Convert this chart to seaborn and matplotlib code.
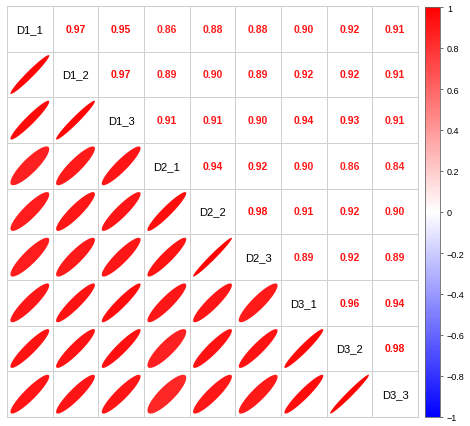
import numpy as np
import pandas as pd
import matplotlib
matplotlib.use("Agg")
import matplotlib.pyplot as plt
import seaborn as sns
from matplotlib.colors import LinearSegmentedColormap, ListedColormap
from matplotlib.patches import Polygon

labels = ["D1_1", "D1_2", "D1_3", "D2_1", "D2_2", "D2_3", "D3_1", "D3_2", "D3_3"]
# upper triangle, row by row
upper = [
    [0.97, 0.95, 0.86, 0.88, 0.88, 0.90, 0.92, 0.91],
    [0.97, 0.89, 0.90, 0.89, 0.92, 0.92, 0.91],
    [0.91, 0.91, 0.90, 0.94, 0.93, 0.91],
    [0.94, 0.92, 0.90, 0.86, 0.84],
    [0.98, 0.91, 0.92, 0.90],
    [0.89, 0.92, 0.89],
    [0.96, 0.94],
    [0.98],
]
cbar_ticks = [-1, -0.8, -0.6, -0.4, -0.2, 0, 0.2, 0.4, 0.6, 0.8, 1]

n = len(labels)
mat = np.eye(n)
for i, row in enumerate(upper):
    for k, v in enumerate(row):
        mat[i, i + 1 + k] = v
        mat[i + 1 + k, i] = v
corr = pd.DataFrame(mat, index=labels, columns=labels)

cmap = LinearSegmentedColormap.from_list("bwr2", ["#0000FF", "#FFFFFF", "#FF0000"], N=200)
norm = plt.Normalize(-1, 1)

plt.rcParams['font.family'] = ['Liberation Sans', 'DejaVu Sans']
fig = plt.figure(figsize=(4.70, 4.27), dpi=100)
ax = fig.add_axes([7 / 470, 9 / 427, 411 / 470, 411 / 427])

# white grid of cells
sns.heatmap(corr, ax=ax, cmap=ListedColormap(["white"]), cbar=False,
            linewidths=0.5, linecolor="#cfcfcf", square=False,
            xticklabels=False, yticklabels=False)
for sp in ax.spines.values():
    sp.set_visible(True)
    sp.set_color("#cfcfcf")
    sp.set_linewidth(0.75)

k = np.linspace(0, 2 * np.pi, 99)
for i in range(n):
    for j in range(n):
        r = corr.iloc[i, j]
        cx, cy = j + 0.5, i + 0.5
        col = cmap(norm(r))
        if i == j:
            ax.text(cx, cy, labels[i], ha="center", va="center", fontsize=8, color="black")
        elif j > i:
            ax.text(cx, cy, f"{r:.2f}", ha="center", va="center", fontsize=7.5,
                    fontweight="bold", color=col)
        else:
            a = np.arccos(r)
            ex = 0.85 * np.cos(k + a / 2) / 2
            ey = 0.85 * np.cos(k - a / 2) / 2
            ax.add_patch(Polygon(np.column_stack([cx + ex, cy - ey]), closed=True,
                                 facecolor=col, edgecolor="none"))

# colour legend
cax = fig.add_axes([425 / 470, 9 / 427, 15 / 470, 410 / 427])
sm = plt.cm.ScalarMappable(norm=norm, cmap=cmap)
cb = fig.colorbar(sm, cax=cax, ticks=cbar_ticks)
cb.ax.set_yticklabels([("\u2212" if t < 0 else "") + f"{abs(t):g}" for t in cbar_ticks])
cb.ax.tick_params(labelsize=6.5, length=2, width=0.6, color="#555555", pad=3)
cb.outline.set_edgecolor("#666666")
cb.outline.set_linewidth(0.6)

fig.savefig("out.png", dpi=100)
